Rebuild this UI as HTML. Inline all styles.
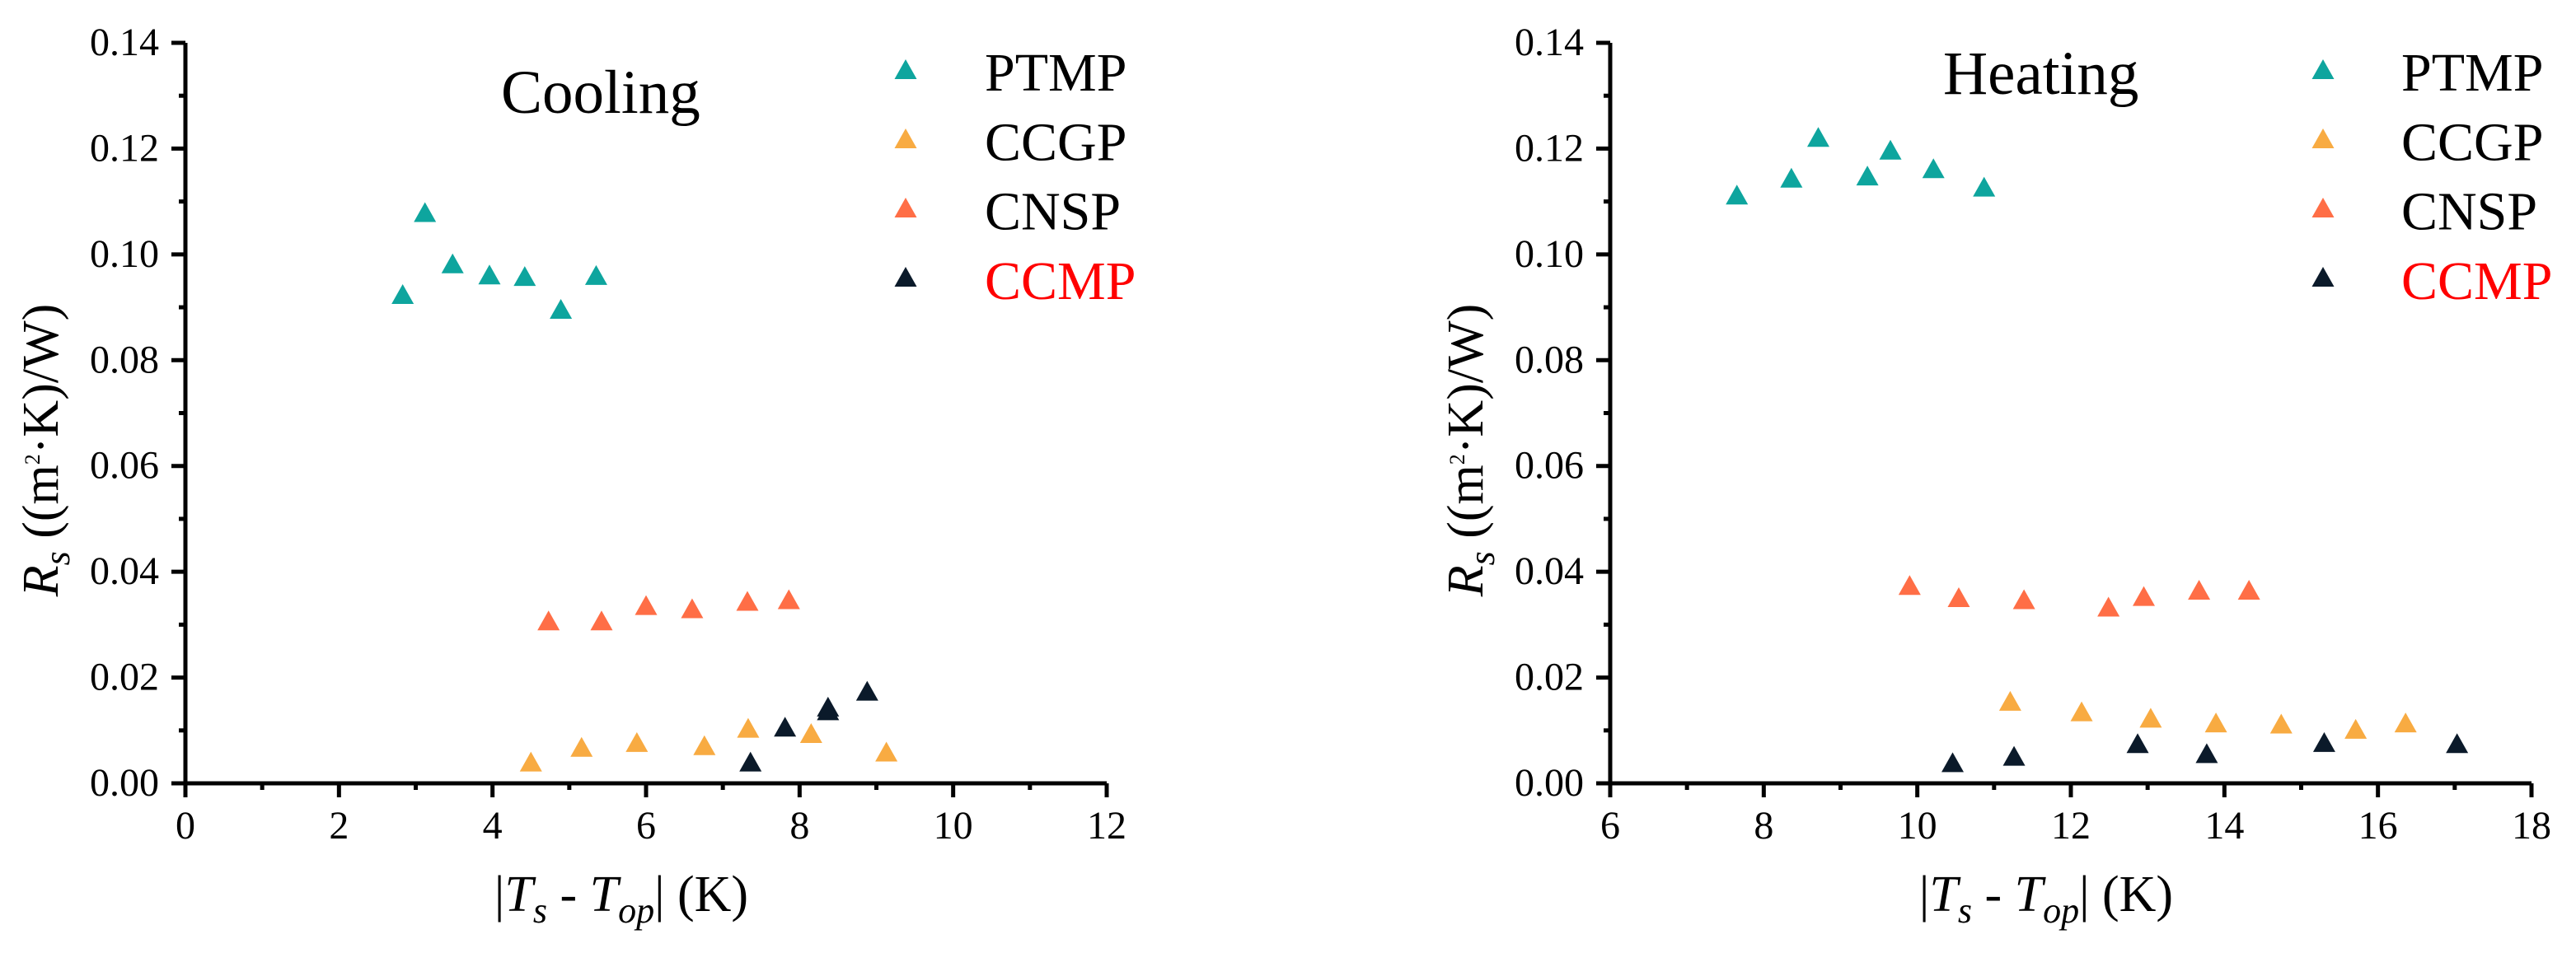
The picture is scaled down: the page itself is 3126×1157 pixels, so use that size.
<!DOCTYPE html>
<html><head><meta charset="utf-8"><style>
html,body{margin:0;padding:0;background:#fff;width:3126px;height:1157px;overflow:hidden}
svg{display:block;font-family:"Liberation Serif","Times New Roman",serif}
svg text{font-family:"Liberation Serif","Times New Roman",serif}
</style></head><body>
<svg id="chart" width="3126" height="1157" font-family="Liberation Serif, serif" xmlns="http://www.w3.org/2000/svg"></svg>
<script>
// Cooling data
const coolPTMPx=[2.83,3.12,3.48,3.96,4.42,4.89,5.35];
const coolPTMPy=[0.0925,0.108,0.0983,0.0962,0.0959,0.0897,0.0961];
const coolCCGPx=[4.50,5.16,5.88,6.76,7.33,8.15,9.13];
const coolCCGPy=[0.0041,0.0069,0.0078,0.0072,0.0105,0.0095,0.0060];
const coolCNSPx=[4.73,5.42,6.00,6.60,7.32,7.86];
const coolCNSPy=[0.0308,0.0308,0.0337,0.0331,0.0345,0.0348];
const coolCCMPx=[7.36,7.81,8.37,8.37,8.88];
const coolCCMPy=[0.0041,0.0107,0.0145,0.0138,0.0175];
// Heating data
const heatPTMPx=[7.65,8.36,8.71,9.35,9.65,10.21,10.87];
const heatPTMPy=[0.1113,0.1145,0.1222,0.1149,0.1198,0.1163,0.1128];
const heatCCGPx=[11.21,12.14,13.04,13.89,14.74,15.71,16.36];
const heatCCGPy=[0.0156,0.0136,0.0124,0.0115,0.0113,0.0103,0.0115];
const heatCNSPx=[9.90,10.54,11.39,12.49,12.95,13.67,14.32];
const heatCNSPy=[0.0375,0.0352,0.0348,0.0334,0.0354,0.0366,0.0366];
const heatCCMPx=[10.46,11.26,12.87,13.77,15.30,17.03];
const heatCCMPy=[0.0040,0.0052,0.0076,0.0057,0.0078,0.0076];
const seriesNames=["PTMP","CCGP","CNSP","CCMP"];
const seriesColors=["#0ea59e","#f8ab42","#ff6e46","#0b1a2a"];
const yTicks=[0,0.02,0.04,0.06,0.08,0.10,0.12,0.14];
const coolXTicks=[0,2,4,6,8,10,12];
const heatXTicks=[6,8,10,12,14,16,18];

const NS="http://www.w3.org/2000/svg";
const FONT='"Liberation Serif", serif';
const svg=document.getElementById('chart');
function mk(tag,attrs,parent){const e=document.createElementNS(NS,tag);for(const k in attrs)e.setAttribute(k,attrs[k]);if(tag==='text')e.style.fontFamily=FONT;(parent||svg).appendChild(e);return e;}

function panel(opt){
  const g=mk('g',{});
  
  
  const L=opt.left,R=opt.left+1118,T=52,B=951;
  const sx=v=>L+(v-opt.xmin)/(opt.xmax-opt.xmin)*(R-L);
  const sy=v=>B-(v/0.14)*(B-T);
  const ax=mk('path',{d:`M${L} ${T} V${B} H${R}`,stroke:'#000','stroke-width':5,fill:'none'},g);
  
  
  for(let i=0;i<=14;i++){const v=i*0.01,y=sy(v);mk('line',{x1:L-(i%2?8:17),x2:L,y1:y,y2:y,stroke:'#000','stroke-width':5},g);}
  yTicks.forEach(v=>{const t=mk('text',{x:L-32,y:sy(v)+15,'text-anchor':'end','font-size':48},g);t.textContent=v.toFixed(2);
    
    });
  for(let v=opt.xmin;v<=opt.xmax;v++){const x=sx(v);const major=(v-opt.xmin)%2===0;mk('line',{x1:x,x2:x,y1:B,y2:B+(major?17:8),stroke:'#000','stroke-width':5},g);}
  opt.xTicks.forEach(v=>{const t=mk('text',{x:sx(v),y:1018,'text-anchor':'middle','font-size':48},g);t.textContent=v;
    
    });
  const yt=mk('text',{transform:`translate(${L-155},${(T+B)/2+45}) rotate(-90)`,'text-anchor':'middle','font-size':62},g);
  yt.innerHTML='<tspan font-style="italic">R</tspan><tspan font-style="italic" font-size="44" dy="14">s</tspan><tspan dy="-14"> ((m</tspan><tspan font-size="26" dy="-22">2</tspan><tspan dy="22">·K)/W)</tspan>';
  
  
  const xt=mk('text',{x:(L+R)/2-30,y:1106,'text-anchor':'middle','font-size':62},g);
  xt.innerHTML='|<tspan font-style="italic">T</tspan><tspan font-style="italic" font-size="44" dy="14">s</tspan><tspan dy="-14"> - </tspan><tspan font-style="italic">T</tspan><tspan font-style="italic" font-size="44" dy="14">op</tspan><tspan dy="-14">| (K)</tspan>';
  
  
  const tt=mk('text',{x:opt.titleX,y:opt.titleY,'font-size':75},g);tt.textContent=opt.title;
  
  
  const tri=(cx,cy,c,p)=>mk('path',{d:`M${cx} ${cy-12} L${cx+13.5} ${cy+12} L${cx-13.5} ${cy+12} Z`,fill:c},p);
  opt.data.forEach((s,si)=>{
    const sg=mk('g',{},g);
    
    
    s[0].forEach((xv,i)=>{const p=tri(sx(xv),sy(s[1][i]),seriesColors[si],sg);
      
      });
  });
  const lg=mk('g',{},g);
  
  
  seriesNames.forEach((n,i)=>{
    const m=tri(opt.legMX,84+i*84,seriesColors[i],lg);
    
    
    const t=mk('text',{x:opt.legTX,y:110+i*84.3,'font-size':66,fill:i===3?'#ff0000':'#000'},lg);t.textContent=n;
    
    
  });
}
panel({key:'cooling',left:225,xmin:0,xmax:12,xTicks:coolXTicks,title:'Cooling',titleX:608,titleY:137,legMX:1099,legTX:1195,
  data:[[coolPTMPx,coolPTMPy],[coolCCGPx,coolCCGPy],[coolCNSPx,coolCNSPy],[coolCCMPx,coolCCMPy]]});
panel({key:'heating',left:1954,xmin:6,xmax:18,xTicks:heatXTicks,title:'Heating',titleX:2358,titleY:114,legMX:2819,legTX:2914,
  data:[[heatPTMPx,heatPTMPy],[heatCCGPx,heatCCGPy],[heatCNSPx,heatCNSPy],[heatCCMPx,heatCCMPy]]});
</script>
</body></html>
